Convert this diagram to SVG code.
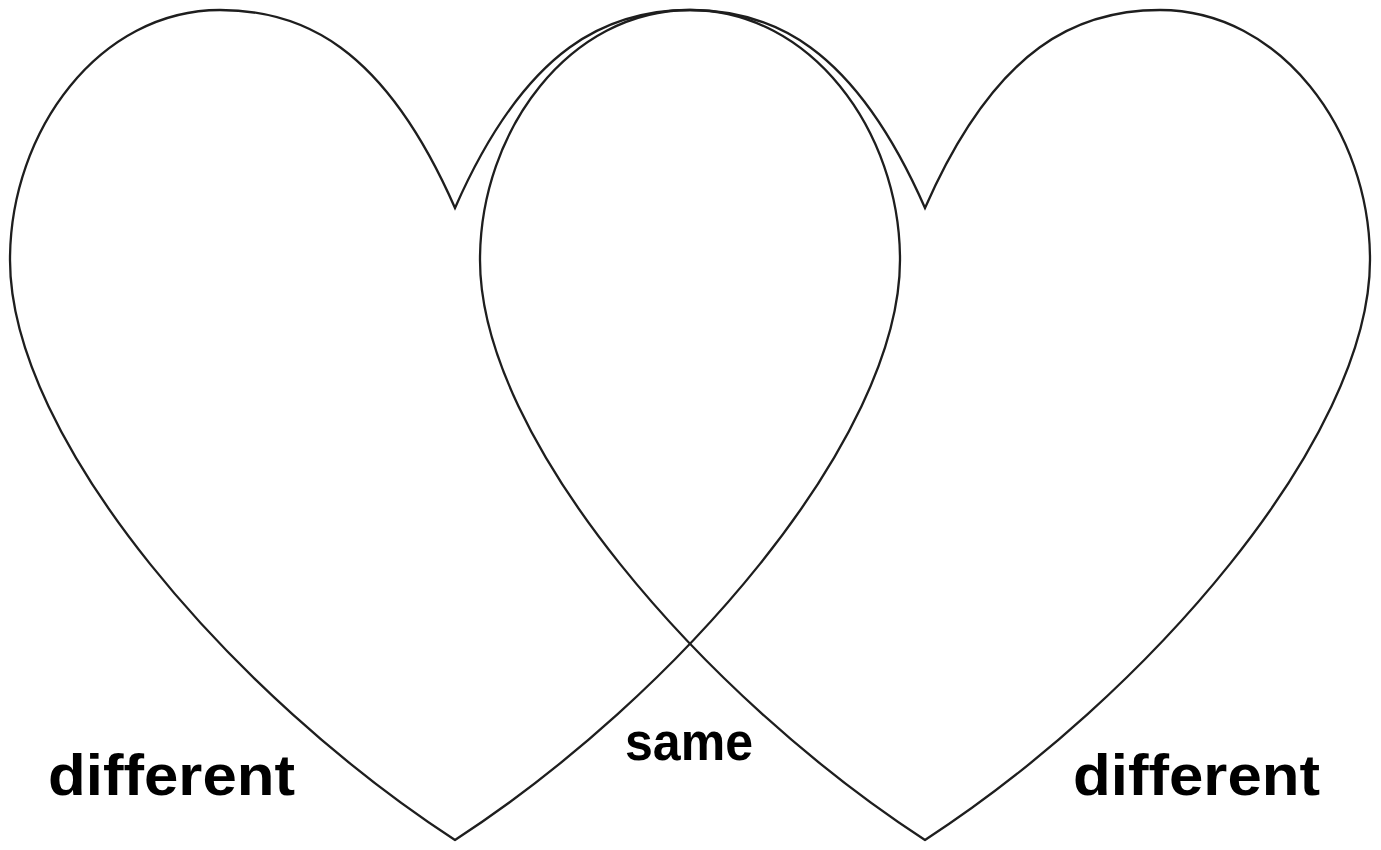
<svg xmlns="http://www.w3.org/2000/svg" width="1381" height="850" viewBox="0 0 1381 850">
  <style>
    .heart { fill: none; stroke: #1e1e1e; stroke-width: 2.3; stroke-linejoin: miter; }
    .lbl { font-family: "Liberation Sans", Arial, sans-serif; font-weight: 700; fill: #000; }
  </style>
  <defs>
    <path id="heartShape" d="M0,208 C-72,44 -155,10 -235,10 C-355,10 -445,130 -445,260 C-445,440 -220,697 0,840 C220,697 445,440 445,260 C445,130 355,10 235,10 C155,10 72,44 0,208 Z"/>
  </defs>
  <rect width="1381" height="850" fill="#ffffff"/>
  <g id="heart-left" transform="translate(455,0)">
    <use href="#heartShape" class="heart"/>
  </g>
  <g id="heart-right" transform="translate(925,0)">
    <use href="#heartShape" class="heart"/>
  </g>
  <g id="connectors"></g>
  <g id="label-left">
    <text class="lbl" x="48" y="795" font-size="58" textLength="247" lengthAdjust="spacingAndGlyphs">different</text>
  </g>
  <g id="label-same">
    <text class="lbl" x="625" y="760" font-size="54" textLength="128" lengthAdjust="spacingAndGlyphs">same</text>
  </g>
  <g id="label-right">
    <text class="lbl" x="1073" y="795" font-size="58" textLength="247" lengthAdjust="spacingAndGlyphs">different</text>
  </g>
</svg>
